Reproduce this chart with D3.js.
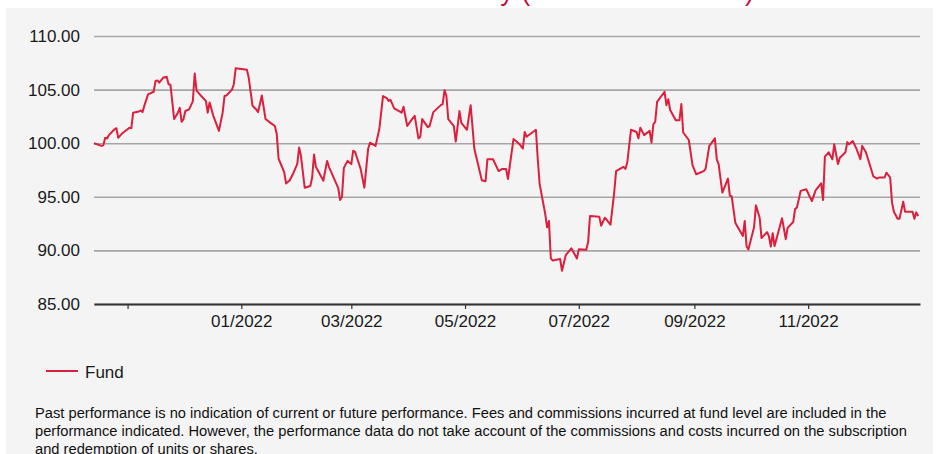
<!DOCTYPE html>
<html>

<head>
    <title>Fund performance</title>
    <script src="https://d3js.org/d3.v7.min.js"></script>
    <style>
        body { margin: 0; background: #ffffff; }
        text { font-family: Arial, "Liberation Sans", sans-serif; }
    </style>
</head>

<body>

    <svg width="941" height="454" id="mainSvg" class="svgs"></svg>
    <script>

        // values
        const dates = [
            "2021-10-14", "2021-10-18", "2021-10-19", "2021-10-20", "2021-10-21", "2021-10-22", "2021-10-25", "2021-10-26",
            "2021-10-27", "2021-10-29", "2021-11-01", "2021-11-02", "2021-11-03", "2021-11-04", "2021-11-07", "2021-11-08",
            "2021-11-09", "2021-11-10", "2021-11-12", "2021-11-15", "2021-11-16", "2021-11-17", "2021-11-18", "2021-11-20",
            "2021-11-22", "2021-11-23", "2021-11-24", "2021-11-26", "2021-11-28", "2021-11-29", "2021-11-30", "2021-12-01",
            "2021-12-02", "2021-12-04", "2021-12-06", "2021-12-07", "2021-12-08", "2021-12-10", "2021-12-13", "2021-12-14",
            "2021-12-15", "2021-12-17", "2021-12-20", "2021-12-22", "2021-12-23", "2021-12-24", "2021-12-27", "2021-12-28",
            "2021-12-29", "2021-12-31", "2022-01-04", "2022-01-05", "2022-01-07", "2022-01-09", "2022-01-10", "2022-01-12",
            "2022-01-14", "2022-01-17", "2022-01-19", "2022-01-20", "2022-01-21", "2022-01-24", "2022-01-25", "2022-01-27",
            "2022-01-29", "2022-01-31", "2022-02-01", "2022-02-02", "2022-02-04", "2022-02-07", "2022-02-08", "2022-02-09",
            "2022-02-10", "2022-02-14", "2022-02-16", "2022-02-17", "2022-02-19", "2022-02-22", "2022-02-23", "2022-02-24",
            "2022-02-25", "2022-02-27", "2022-03-01", "2022-03-02", "2022-03-03", "2022-03-06", "2022-03-08", "2022-03-10",
            "2022-03-11", "2022-03-14", "2022-03-16", "2022-03-18", "2022-03-20", "2022-03-21", "2022-03-22", "2022-03-24",
            "2022-03-28", "2022-03-29", "2022-03-31", "2022-04-02", "2022-04-04", "2022-04-06", "2022-04-07", "2022-04-08",
            "2022-04-11", "2022-04-12", "2022-04-14", "2022-04-18", "2022-04-19", "2022-04-20", "2022-04-21", "2022-04-22",
            "2022-04-25", "2022-04-26", "2022-04-28", "2022-04-29", "2022-05-02", "2022-05-04", "2022-05-06", "2022-05-10",
            "2022-05-12", "2022-05-13", "2022-05-16", "2022-05-19", "2022-05-21", "2022-05-23", "2022-05-24", "2022-05-27",
            "2022-05-30", "2022-06-01", "2022-06-02", "2022-06-03", "2022-06-08", "2022-06-09", "2022-06-10", "2022-06-13",
            "2022-06-14", "2022-06-15", "2022-06-16", "2022-06-17", "2022-06-21", "2022-06-22", "2022-06-24", "2022-06-27",
            "2022-06-30", "2022-07-01", "2022-07-05", "2022-07-06", "2022-07-07", "2022-07-12", "2022-07-13", "2022-07-15",
            "2022-07-18", "2022-07-20", "2022-07-21", "2022-07-24", "2022-07-25", "2022-07-26", "2022-07-27", "2022-07-29",
            "2022-08-01", "2022-08-02", "2022-08-03", "2022-08-05", "2022-08-08", "2022-08-09", "2022-08-10", "2022-08-11",
            "2022-08-12", "2022-08-16", "2022-08-17", "2022-08-18", "2022-08-19", "2022-08-22", "2022-08-24", "2022-08-25",
            "2022-08-26", "2022-08-29", "2022-08-31", "2022-09-02", "2022-09-06", "2022-09-07", "2022-09-09", "2022-09-12",
            "2022-09-13", "2022-09-14", "2022-09-16", "2022-09-19", "2022-09-20", "2022-09-21", "2022-09-23", "2022-09-27",
            "2022-09-28", "2022-09-29", "2022-09-30", "2022-10-03", "2022-10-04", "2022-10-06", "2022-10-07", "2022-10-10",
            "2022-10-11", "2022-10-12", "2022-10-13", "2022-10-14", "2022-10-18", "2022-10-20", "2022-10-21", "2022-10-24",
            "2022-10-25", "2022-10-26", "2022-10-28", "2022-10-31", "2022-11-03", "2022-11-05", "2022-11-08", "2022-11-09",
            "2022-11-10", "2022-11-12", "2022-11-14", "2022-11-15", "2022-11-17", "2022-11-18", "2022-11-21", "2022-11-22",
            "2022-11-23", "2022-11-25", "2022-11-27", "2022-11-29", "2022-11-30", "2022-12-02", "2022-12-06", "2022-12-08",
            "2022-12-09", "2022-12-12", "2022-12-13", "2022-12-15", "2022-12-16", "2022-12-17", "2022-12-19", "2022-12-20",
            "2022-12-22", "2022-12-23", "2022-12-27", "2022-12-28", "2022-12-29", "2022-12-30"
        ];

        const fundValues = [
            100.0, 99.75, 99.8, 100.5, 100.45, 100.75, 101.3, 101.4,
            100.5, 100.9, 101.3, 101.45, 101.4, 102.85, 102.95, 103.05,
            102.9, 103.5, 104.55, 104.8, 105.8, 105.85, 105.65, 106.1,
            106.2, 105.5, 105.45, 102.25, 102.85, 103.3, 102.0, 102.25,
            103.0, 103.15, 103.9, 106.5, 104.9, 104.5, 103.95, 102.85,
            103.8, 102.55, 101.15, 102.85, 104.4, 104.45, 105.0, 105.5,
            107.0, 106.95, 106.85, 106.1, 103.5, 103.15, 102.9, 104.45,
            102.25, 101.85, 101.6, 100.85, 98.55, 97.3, 96.25, 96.55,
            97.25, 98.05, 99.6, 98.8, 95.85, 96.0, 96.8, 98.95,
            97.8, 96.5, 98.35, 97.8, 97.0, 95.8, 94.7, 95.0,
            97.7, 98.35, 98.05, 99.3, 99.2, 97.6, 95.85, 99.45,
            100.05, 99.75, 101.3, 104.4, 104.2, 103.95, 104.05, 103.25,
            102.85, 103.4, 101.6, 102.1, 102.55, 100.45, 100.6, 102.25,
            101.5, 101.6, 102.9, 103.55, 103.65, 104.95, 104.4, 102.25,
            101.6, 100.15, 103.0, 101.9, 101.25, 103.55, 99.45, 96.55,
            96.45, 98.5, 98.5, 97.4, 97.6, 97.6, 96.65, 100.4,
            99.95, 99.5, 101.05, 100.6, 101.25, 98.5, 96.2, 93.4,
            92.15, 92.75, 89.25, 89.05, 89.2, 88.1, 89.55, 90.2,
            89.25, 90.1, 90.05, 90.75, 93.2, 93.15, 92.3, 93.05,
            92.4, 95.4, 97.4, 97.7, 97.8, 97.6, 98.2, 101.25,
            101.05, 100.45, 101.45, 100.75, 101.15, 100.05, 101.75, 102.0,
            103.85, 104.8, 103.55, 104.1, 103.1, 102.15, 102.15, 103.65,
            101.0, 100.3, 97.95, 97.1, 97.4, 97.6, 99.75, 100.45,
            98.5, 98.05, 95.4, 96.7, 95.1, 95.05, 92.55, 91.35,
            92.75, 90.35, 90.1, 92.15, 94.2, 93.05, 91.15, 91.7,
            91.3, 90.35, 91.6, 90.4, 93.0, 91.05, 92.1, 92.65,
            93.85, 94.0, 95.55, 95.7, 94.6, 95.6, 96.25, 94.7,
            98.75, 99.15, 98.5, 99.9, 98.05, 98.65, 99.15, 100.1,
            99.9, 100.2, 99.45, 98.5, 99.75, 99.15, 96.9, 96.7,
            96.8, 96.8, 97.25, 96.8, 94.45, 93.6, 92.95, 92.95,
            94.55, 93.6, 93.6, 92.95, 93.55, 93.2
        ];

        const yTicks = [85, 90, 95, 100, 105, 110];
        const xTickDates = ["2021-11-01", "2022-01-01", "2022-03-01", "2022-05-01", "2022-07-01", "2022-09-01", "2022-11-01"];
        const xTickLabels = ["", "01/2022", "03/2022", "05/2022", "07/2022", "09/2022", "11/2022"];
        const xDomain = ["2021-10-14", "2022-12-31"];

        const seriesName = "Fund";
        const titleText = "Performance history (base 100 in euros)";
        const noteLines = [
            "Past performance is no indication of current or future performance. Fees and commissions incurred at fund level are included in the",
            "performance indicated. However, the performance data do not take account of the commissions and costs incurred on the subscription",
            "and redemption of units or shares."
        ];

        const lineColor = "#dc1f3c";

        const mainSvg = d3.select('.svgs');
        const mainWidth = +mainSvg.attr("width");
        const mainHeight = +mainSvg.attr("height");
        const margin = {
            top: 36,
            right: 21,
            bottom: 150,
            left: 94
        };
        const innerWidth = mainWidth - margin.left - margin.right;
        const innerHeight = 304 - margin.top;

        const parseDate = d3.timeParse("%Y-%m-%d");
        const data = dates.map((d, i) => ({ date: parseDate(d), value: fundValues[i] }));

        // grey panel
        mainSvg.append("rect")
            .attr("x", 6)
            .attr("y", 8)
            .attr("width", 927)
            .attr("height", mainHeight - 8)
            .attr("fill", "#f4f4f4");

        // title, cut off at the top edge (only descenders show)
        mainSvg.append("text")
            .attr("x", 754)
            .attr("y", 0)
            .attr("text-anchor", "end")
            .attr("font-size", 27)
            .attr("fill", "#c0123c")
            .text(titleText);

        const g = mainSvg.append("g")
            .attr("id", "mainGroup")
            .attr("transform", `translate(${margin.left}, ${margin.top})`);

        const xScale = d3.scaleTime()
            .domain(xDomain.map(parseDate))
            .range([0, innerWidth]);

        const yScale = d3.scaleLinear()
            .domain([85, 110])
            .range([innerHeight, 0]);

        // horizontal grid + y labels
        const yAxis = d3.axisLeft(yScale)
            .tickValues(yTicks)
            .tickSize(-innerWidth)
            .tickPadding(14)
            .tickFormat(d3.format(".2f"));

        const yAxisGroup = g.append("g").call(yAxis);
        yAxisGroup.select(".domain").remove();
        yAxisGroup.selectAll(".tick line")
            .attr("stroke", "#a6a6a6")
            .attr("stroke-width", 1.6);
        yAxisGroup.selectAll(".tick text")
            .attr("font-size", 17)
            .attr("fill", "#1a1a1a")
            .attr("font-family", "Arial, 'Liberation Sans', sans-serif");

        // x axis
        const xAxis = d3.axisBottom(xScale)
            .tickValues(xTickDates.map(parseDate))
            .tickSize(5)
            .tickSizeOuter(0)
            .tickPadding(6)
            .tickFormat((d, i) => xTickLabels[i]);

        const xAxisGroup = g.append("g")
            .attr("transform", `translate(0, ${innerHeight})`)
            .call(xAxis);
        xAxisGroup.select(".domain")
            .attr("stroke", "#333333")
            .attr("stroke-width", 2);
        xAxisGroup.selectAll(".tick line")
            .attr("stroke", "#333333")
            .attr("stroke-width", 1.2);
        xAxisGroup.selectAll(".tick text")
            .attr("font-size", 17)
            .attr("fill", "#1a1a1a")
            .attr("font-family", "Arial, 'Liberation Sans', sans-serif");

        // fund line
        const line = d3.line()
            .x(d => xScale(d.date))
            .y(d => yScale(d.value));

        g.append("path")
            .datum(data)
            .attr("fill", "none")
            .attr("stroke", lineColor)
            .attr("stroke-width", 2)
            .attr("stroke-linejoin", "round")
            .attr("d", line);

        // legend
        const legend = mainSvg.append("g")
            .attr("transform", "translate(46, 371)");
        legend.append("line")
            .attr("x1", 0)
            .attr("x2", 32)
            .attr("stroke", lineColor)
            .attr("stroke-width", 2);
        legend.append("text")
            .attr("x", 39)
            .attr("y", 6.5)
            .attr("font-size", 17)
            .attr("fill", "#1a1a1a")
            .text(seriesName);

        // footnote
        mainSvg.append("g")
            .selectAll("text")
            .data(noteLines)
            .join("text")
            .attr("x", 35)
            .attr("y", (d, i) => 418 + i * 18)
            .attr("font-size", 14.7)
            .attr("fill", "#111111")
            .text(d => d);

    </script>
</body>

</html>
